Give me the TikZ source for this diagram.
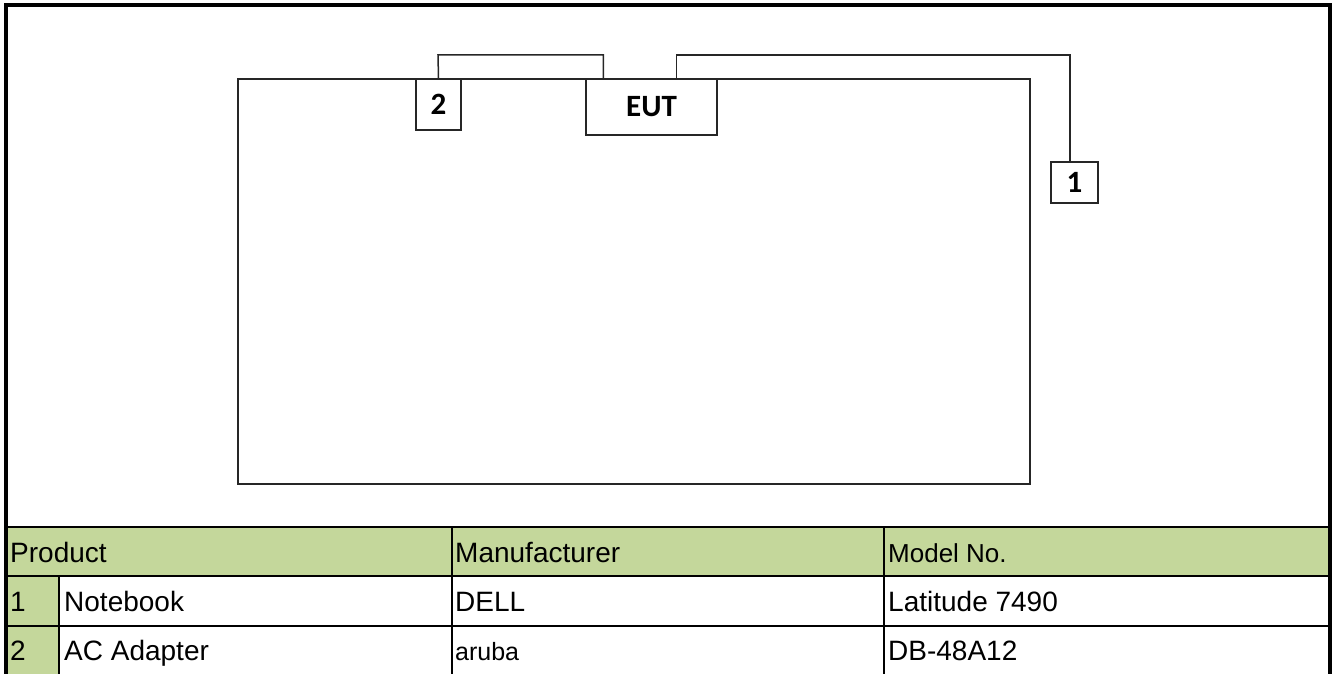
\documentclass[tikz,border=0pt]{standalone}
\usepackage{fontspec}
\setmainfont{Liberation Sans}
\newfontfamily\calfont{Carlito}
\definecolor{hdrgreen}{RGB}{196,215,155}
\begin{document}
\begin{tikzpicture}[x=1pt,y=-1pt,
  wire/.style={line width=1.5pt,black!85},
  unitbox/.style={draw=black!85,line width=1.5pt,fill=white,inner sep=0pt,
    font=\calfont\bfseries\fontsize{31}{33}\selectfont},
  grid/.style={line width=2.5pt,black},
  cell/.style={anchor=base west,inner sep=0pt,font=\fontsize{28}{30}\selectfont}]
\useasboundingbox (0,0) rectangle (1335,674);
% table fills
\fill[hdrgreen] (5,527) rectangle (1330,576);
\fill[hdrgreen] (5,576) rectangle (59,674);
% big rectangle (table top)
\node[draw=black!85,line width=1.5pt,inner sep=0pt,minimum width=792pt,minimum height=405pt] (desk) at (634,281.5) {};
% units
\node[unitbox,minimum width=45pt,minimum height=51pt] (b2) at (438.5,104.5) {2};
\node[unitbox,minimum width=131pt,minimum height=56pt] (eut) at (651.5,107) {EUT};
\node[unitbox,minimum width=47pt,minimum height=41pt] (b1) at (1074.5,182.5) {1};
\coordinate (wa) at (438,55);
\coordinate (wb) at (1070,55);
% wires
\draw[wire] (b2.north) -- (wa) -| ([xshift=18pt]eut.north west);
\draw[wire] ([xshift=91pt]eut.north west) |- (wb) -- ([xshift=-4.5pt]b1.north);
% table grid
\draw[grid] (5,527) -- (1330,527);
\draw[grid] (5,576) -- (1330,576);
\draw[grid] (5,626) -- (1330,626);
\draw[grid] (59,576) -- (59,680);
\draw[grid] (452,527) -- (452,680);
\draw[grid] (884,527) -- (884,680);
% frame
\draw[line width=4pt] (5.5,680) -- (5.5,5) -- (1330,5) -- (1330,680);
% texts
\node[cell] (tProd) at (10,562) {Product};
\node[cell] (tMan) at (455,562) {Manufacturer};
\node[cell,font=\fontsize{26}{28}\selectfont] (tMod) at (888,562) {Model No.};
\node[cell] (n1) at (10,611) {1};
\node[cell] (p1) at (64,611) {Notebook};
\node[cell] (m1) at (455,611) {DELL};
\node[cell] (d1) at (888,611) {Latitude 7490};
\node[cell] (n2) at (10,660) {2};
\node[cell] (p2) at (64,660) {AC Adapter};
\node[cell,font=\fontsize{25}{27}\selectfont] (m2) at (455,660) {aruba};
\node[cell] (d2) at (888,660) {DB-48A12};
\end{tikzpicture}
\end{document}
